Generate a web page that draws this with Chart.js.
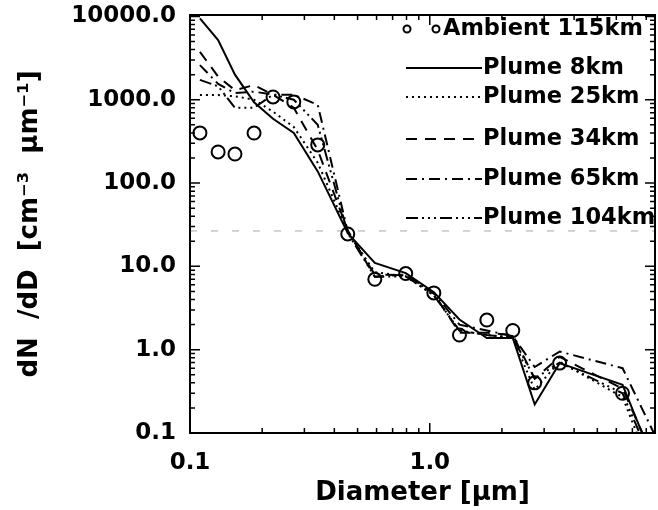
<!DOCTYPE html>
<html>
<head>
<meta charset="utf-8">
<script src="https://cdn.jsdelivr.net/npm/chart.js@4.4.0/dist/chart.umd.min.js"></script>
<style>
  html, body { margin: 0; padding: 0; background: #fff; }
  #wrap { width: 658px; height: 510px; }
</style>
</head>
<body>
<div id="wrap"><canvas id="sizeDist" width="658" height="510"></canvas></div>
<script>
// size bins (um) and dN/dD values
var diameters = [0.110, 0.131, 0.154, 0.185, 0.222, 0.271, 0.341, 0.455, 0.590, 0.794, 1.04, 1.33, 1.73, 2.22, 2.74, 3.48, 6.37, 8.6];
var ambient  = [400, 236, 223, 398, 1080, 942, 287, 24.5, 7.0, 8.2, 4.8, 1.5, 2.27, 1.7, 0.40, 0.69, 0.30];
var plume8   = [9500, 5200, 2000, 930, 590, 400, 138, 25, 11, 8.3, 4.9, 2.3, 1.38, 1.38, 0.22, 0.69, 0.38, 0.045];
var plume25  = [1140, 1140, 1100, 1000, 720, 470, 175, 26, 8.5, 7.6, 4.5, 1.7, 1.5, 1.4, 0.33, 0.72, 0.27, 0.03];
var plume34  = [3750, 1900, 1300, 1500, 1150, 800, 250, 27, 7.5, 8.0, 4.7, 1.6, 1.6, 1.5, 0.45, 0.82, 0.34, 0.05];
var plume65  = [2600, 1550, 1200, 1250, 1150, 1150, 870, 26, 8.0, 7.8, 4.8, 2.0, 1.7, 1.45, 0.62, 0.95, 0.60, 0.10];
var plume104 = [1730, 1450, 800, 800, 1150, 1000, 500, 25, 7.5, 7.6, 4.5, 1.7, 1.5, 1.4, 0.45, 0.70, 0.30, 0.04];
var scanLine = [26.6, 26.6];          // faint grey dashed line across the scan
var scanX = [0.1, 8.7];

var xTicks = [0.1, 1];
var yTicks = [0.1, 1, 10, 100, 1000, 10000];
var legendLabels = ['Ambient 115km', 'Plume 8km', 'Plume 25km', 'Plume 34km', 'Plume 65km', 'Plume 104km'];

function pts(xs, ys) {
  return ys.map(function (v, i) { return { x: xs[i], y: v }; });
}

var FONT = 'DejaVu Sans';

function plumeSet(label, values, dash) {
  return {
    label: label,
    data: pts(diameters, values),
    borderColor: '#000',
    borderWidth: 2,
    borderDash: dash,
    pointRadius: 0,
    fill: false,
    tension: 0
  };
}

// inward ticks, frame and in-plot legend
var frameAndLegend = {
  id: 'frameAndLegend',
  afterDatasetsDraw: function (chart) {
    var ctx = chart.ctx;
    var a = chart.chartArea;
    var xs = chart.scales.x, ys = chart.scales.y;
    ctx.save();
    ctx.strokeStyle = '#000';
    ctx.lineWidth = 2;
    ctx.setLineDash([]);
    ctx.strokeRect(a.left, a.top, a.right - a.left, a.bottom - a.top);

    ctx.lineWidth = 1.5;
    // x ticks (bottom up, top down)
    for (var d = 0.1; d < 10; d *= 10) {
      for (var m = 1; m < 10; m++) {
        var v = d * m;
        if (v < xs.min || v > xs.max) continue;
        var px = xs.getPixelForValue(v);
        var len = m === 1 ? 10 : 5;
        ctx.beginPath();
        ctx.moveTo(px, a.bottom); ctx.lineTo(px, a.bottom - len);
        ctx.moveTo(px, a.top); ctx.lineTo(px, a.top + len);
        ctx.stroke();
      }
    }
    // y ticks (left pointing right, right pointing left)
    for (var e = 0.1; e < 20000; e *= 10) {
      for (var k = 1; k < 10; k++) {
        var w = e * k;
        if (w < ys.min || w > ys.max) continue;
        var py = ys.getPixelForValue(w);
        var l2 = k === 1 ? 10 : 5;
        ctx.beginPath();
        ctx.moveTo(a.left, py); ctx.lineTo(a.left + l2, py);
        ctx.moveTo(a.right, py); ctx.lineTo(a.right - l2, py);
        ctx.stroke();
      }
    }

    // legend
    var rows = [29, 68, 97, 139, 179, 218];
    ctx.font = 'bold 22.5px "' + FONT + '"';
    ctx.textBaseline = 'middle';
    ctx.fillStyle = '#000';
    ctx.lineWidth = 2;
    // ambient row: two small circles then text
    ctx.beginPath(); ctx.arc(407, rows[0], 3.5, 0, Math.PI * 2); ctx.stroke();
    ctx.beginPath(); ctx.arc(436, rows[0], 3.5, 0, Math.PI * 2); ctx.stroke();
    ctx.fillText(legendLabels[0], 443, rows[0]);
    for (var i = 1; i < legendLabels.length; i++) {
      var ds = chart.data.datasets[i];
      ctx.setLineDash(ds.borderDash || []);
      ctx.beginPath();
      ctx.moveTo(406, rows[i]); ctx.lineTo(482, rows[i]);
      ctx.stroke();
      ctx.setLineDash([]);
      ctx.fillText(legendLabels[i], 483, rows[i]);
    }
    ctx.restore();
  }
};

var SizeDist = new Chart(document.querySelector('#sizeDist'), {
  type: 'line',
  data: {
    datasets: [
      {
        label: legendLabels[0],
        data: pts(diameters, ambient),
        showLine: false,
        pointStyle: 'circle',
        pointRadius: 6.5,
        pointBorderWidth: 2,
        pointBorderColor: '#000',
        pointBackgroundColor: 'rgba(0,0,0,0)'
      },
      plumeSet(legendLabels[1], plume8, []),
      plumeSet(legendLabels[2], plume25, [2, 4]),
      plumeSet(legendLabels[3], plume34, [11, 8]),
      plumeSet(legendLabels[4], plume65, [11, 5, 2, 5]),
      plumeSet(legendLabels[5], plume104, [12, 4, 2, 4, 2, 4, 2, 4]),
      {
        label: 'scan',
        data: pts(scanX, scanLine),
        borderColor: '#a8a8a8',
        borderWidth: 1,
        borderDash: [7, 14],
        pointRadius: 0,
        fill: false
      }
    ]
  },
  options: {
    responsive: false,
    animation: false,
    layout: { autoPadding: false, padding: { top: 15, right: 3, left: 0, bottom: 0 } },
    plugins: {
      legend: { display: false },
      tooltip: { enabled: false }
    },
    scales: {
      x: {
        type: 'logarithmic',
        min: 0.1,
        max: 8.7,
        afterBuildTicks: function (s) { s.ticks = xTicks.map(function (v) { return { value: v }; }); },
        afterFit: function (s) { s.height = 77; s.paddingLeft = 0; s.paddingRight = 0; },
        grid: { display: false, drawTicks: false },
        border: { display: false },
        ticks: {
          color: '#000',
          padding: 16,
          maxRotation: 0,
          autoSkip: false,
          font: { family: FONT, weight: 'bold', size: 23 },
          callback: function (v) { return Number(v).toFixed(1); }
        },
        title: {
          display: true,
          text: 'Diameter [μm]',
          color: '#000',
          padding: { top: 0, bottom: 1 },
          font: { family: FONT, weight: 'bold', size: 26 }
        }
      },
      y: {
        type: 'logarithmic',
        min: 0.1,
        max: 10400,
        afterBuildTicks: function (s) { s.ticks = yTicks.map(function (v) { return { value: v }; }); },
        afterFit: function (s) { s.width = 190; s.paddingTop = 0; s.paddingBottom = 0; },
        grid: { display: false, drawTicks: false },
        border: { display: false },
        ticks: {
          color: '#000',
          padding: 14,
          autoSkip: false,
          font: { family: FONT, weight: 'bold', size: 23 },
          callback: function (v) { return Number(v).toFixed(1); }
        },
        title: {
          display: true,
          text: 'dN  /dD  [cm⁻³  μm⁻¹]',
          color: '#000',
          padding: { top: 15, bottom: 0 },
          font: { family: FONT, weight: 'bold', size: 26 }
        }
      }
    }
  },
  plugins: [frameAndLegend]
});
</script>
</body>
</html>
